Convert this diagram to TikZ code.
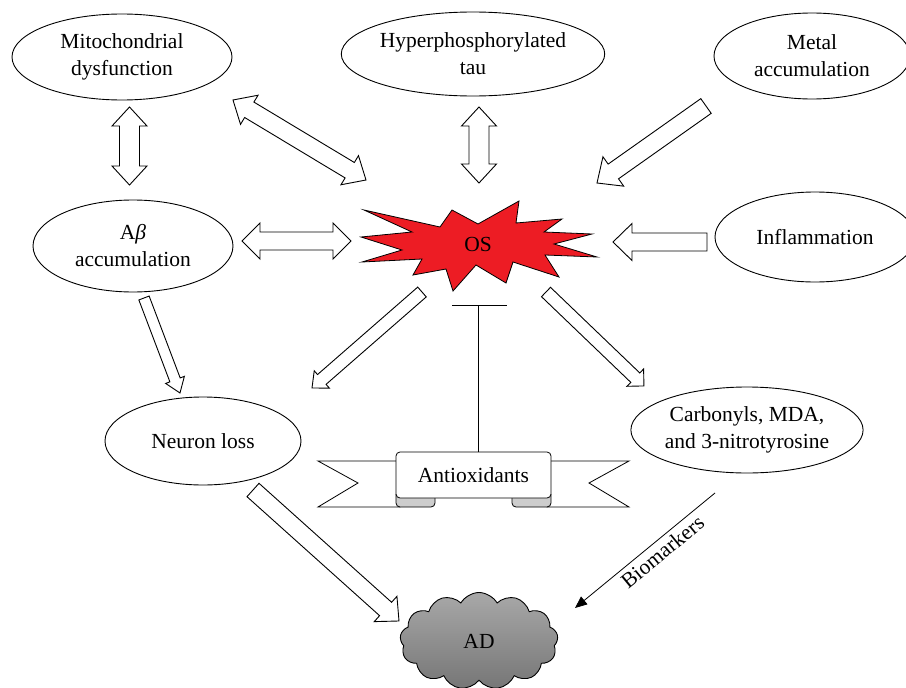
\documentclass[tikz,border=0pt]{standalone}
\usepackage{fontspec}
\setmainfont{Liberation Serif}
\usetikzlibrary{shapes.geometric,shapes.symbols,arrows.meta,calc}
\definecolor{osred}{RGB}{237,28,36}
\definecolor{cloudtop}{RGB}{168,168,168}
\definecolor{cloudbot}{RGB}{118,118,118}
\definecolor{foldgray}{RGB}{205,205,205}
\newcommand\getang[2]{%
  \pgfpointdiff{\pgfpointanchor{#1}{center}}{\pgfpointanchor{#2}{center}}%
  \pgfgetlastxy{\badx}{\bady}%
  \pgfmathsetmacro\baang{atan2(\bady,\badx)}%
  \pgfmathsetmacro\balen{veclen(\badx,\bady)}%
}
% single block arrow: #1 tail, #2 tip, #3 half shaft, #4 half head, #5 head length
\newcommand\blockarr[5]{%
  \getang{#1}{#2}%
  \begin{scope}[shift={(#1)}, rotate=\baang]
    \draw[barrow] (0,-#3) -- ({\balen-#5},-#3) -- ({\balen-#5},-#4) -- (\balen,0)
      -- ({\balen-#5},#4) -- ({\balen-#5},#3) -- (0,#3) -- cycle;
  \end{scope}}
% double block arrow
\newcommand\dblarr[5]{%
  \getang{#1}{#2}%
  \begin{scope}[shift={(#1)}, rotate=\baang]
    \draw[barrow] (0,0) -- (#5,-#4) -- (#5,-#3) -- ({\balen-#5},-#3) -- ({\balen-#5},-#4)
      -- (\balen,0) -- ({\balen-#5},#4) -- ({\balen-#5},#3) -- (#5,#3) -- (#5,#4) -- cycle;
  \end{scope}}
\begin{document}
\begin{tikzpicture}[x=1pt,y=-1pt,
  every node/.style={font=\fontsize{21.5}{27}\selectfont},
  ell/.style={ellipse, draw, line width=0.9pt, inner sep=0pt, align=center, fill=white},
  barrow/.style={draw=black, fill=white, line width=0.9pt, line join=miter},
  banner/.style={draw=black, fill=white, line width=0.8pt, line join=miter}]
\useasboundingbox (0,0) rectangle (906,688);
\fill[white] (0,0) rectangle (906,688);

% ellipses
\node[ell, minimum width=220pt, minimum height=86pt] (mito) at (122,57) {Mitochondrial\\dysfunction};
\node[ell, minimum width=250pt, minimum height=84pt] (tau) at (473,54) {Hyperphosphorylated\\tau};
\node[ell, minimum width=196pt, minimum height=86pt] (metal) at (812,56) {Metal\\accumulation};
\node[ell, minimum width=200pt, minimum height=92pt] (abeta) at (133,246) {A\textit{β}\\accumulation};
\node[ell, minimum width=200pt, minimum height=90pt] (infl) at (815,237) {Inflammation};
\node[ell, minimum width=196pt, minimum height=88pt] (neuron) at (203,441) {Neuron loss};
\node[ell, minimum width=230pt, minimum height=86pt] (carb) at (747,430) {Carbonyls, MDA,\\and 3-nitrotyrosine};

% OS star
\draw[fill=osred, line width=0.8pt, line join=miter] (364,210) -- (440,227) -- (452,210) -- (478,224) -- (519,201)
  -- (516,223) -- (562,219) -- (544,232) -- (592,234) -- (554,244) -- (597,257) -- (545,255)
  -- (559,277) -- (513,262) -- (506,283) -- (476,265) -- (453,291) -- (446,269) -- (413,275)
  -- (422,259) -- (362,262) -- (402,250) -- (361,237) -- (412,232) -- cycle;
\node (os) at (478,244) {OS};

% arrow end points
\coordinate (a1s) at (129.5,107); \coordinate (a1e) at (129.5,185);
\coordinate (a2s) at (479,107);   \coordinate (a2e) at (479,183);
\coordinate (a3s) at (233,100);   \coordinate (a3e) at (366,180);
\coordinate (a4s) at (242,241);   \coordinate (a4e) at (351,241);
\coordinate (a5s) at (706,106);   \coordinate (a5e) at (597,183);
\coordinate (a6s) at (707,242);   \coordinate (a6e) at (613,242);
\coordinate (a7s) at (144,298);   \coordinate (a7e) at (180,393);
\coordinate (a8s) at (422,292);   \coordinate (a8e) at (312,388);
\coordinate (a9s) at (546,292);   \coordinate (a9e) at (644,386);
\coordinate (a10s) at (253,490);  \coordinate (a10e) at (399,621);

\dblarr{a1s}{a1e}{10}{17.5}{19}
\dblarr{a2s}{a2e}{10}{17.5}{19}
\dblarr{a3s}{a3e}{9}{17}{19}
\dblarr{a4s}{a4e}{9}{18}{18}
\blockarr{a5s}{a5e}{9}{18}{20}
\blockarr{a6s}{a6e}{9}{18.5}{19}
\blockarr{a7s}{a7e}{5.5}{10}{14}
\blockarr{a8s}{a8e}{6.5}{11.5}{13}
\blockarr{a9s}{a9e}{6.5}{12}{12}
\blockarr{a10s}{a10e}{9}{17}{18}

% banner
\draw[banner] (318,461) -- (400,461) -- (400,507) -- (318,507) -- (358,483) -- cycle;
\draw[banner] (629,461) -- (547,461) -- (547,507) -- (629,507) -- (589,483) -- cycle;
\draw[fill=foldgray, line width=0.8pt, rounded corners=4pt] (396,494) -- (396,507) -- (435,507) -- (435,494);
\draw[fill=foldgray, line width=0.8pt, rounded corners=4pt] (512,494) -- (512,507) -- (551,507) -- (551,494);
\node[draw, fill=white, line width=0.8pt, rounded corners=4pt, minimum width=155pt, minimum height=46pt, inner sep=0pt] (antiox) at (473.5,475) {Antioxidants};

% inhibition
\coordinate (tb) at (478,452); \coordinate (tt) at (478,305);
\coordinate (tl) at (452,305); \coordinate (tr) at (507,305);
\draw[line width=0.8pt] (tb) -- (tt);
\draw[line width=0.8pt] (tl) -- (tr);

% AD cloud
\node[cloud, draw, line width=0.9pt, cloud puffs=13, cloud puff arc=120, cloud ignores aspect,
  minimum width=158pt, minimum height=97pt, top color=cloudtop, bottom color=cloudbot] (ad) at (479,641) {AD};

% biomarkers
\coordinate (bs) at (715,493); \coordinate (be) at (575,608);
\draw[line width=0.8pt, -{Triangle[length=12pt,width=10pt]}] (bs) -- (be)
  node[pos=0.43, rotate=39.4, anchor=north, inner sep=4pt] (bio) {Biomarkers};
\end{tikzpicture}
\end{document}
